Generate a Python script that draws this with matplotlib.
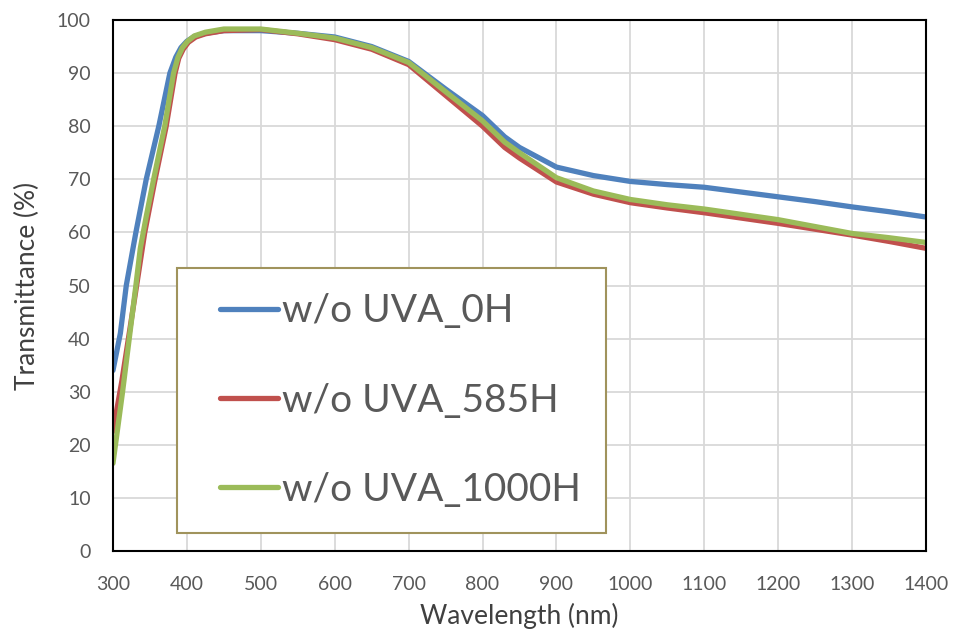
import matplotlib
matplotlib.use("Agg")
import matplotlib.pyplot as plt
from matplotlib.legend_handler import HandlerLine2D

# -----------------------------
# Data
# -----------------------------
wl_0h = [300, 310, 318, 331, 345, 362, 377, 385, 392, 400, 410, 425, 450, 500,
         550, 600, 650, 700, 750, 800, 830, 850, 900, 950, 1000, 1050, 1100,
         1150, 1200, 1250, 1300, 1350, 1400]
t_0h = [34, 41, 50, 60, 70, 80, 90, 93, 94.8, 96, 96.9, 97.5, 98, 98,
        97.5, 96.8, 95, 92.2, 87, 82, 78, 76, 72.3, 70.7, 69.6, 69, 68.5,
        67.6, 66.7, 65.8, 64.8, 63.9, 62.9]

wl_585h = [300, 312, 322, 332, 343, 357, 372, 384, 389, 395, 402, 412, 425, 450,
           500, 550, 600, 650, 700, 750, 800, 830, 850, 900, 950, 1000, 1050,
           1100, 1150, 1200, 1250, 1300, 1350, 1400]
t_585h = [22.5, 32, 41, 50, 60, 70, 80, 90, 92.8, 94.5, 95.8, 96.8, 97.4, 98,
          98.2, 97.4, 96.3, 94.5, 91.6, 85.8, 80, 76, 74, 69.5, 67.2, 65.6, 64.6,
          63.7, 62.7, 61.7, 60.6, 59.5, 58.3, 57]

wl_1000h = [300, 313, 322, 331, 337, 345, 355, 370, 382, 388, 394, 401, 410, 425,
            450, 500, 550, 600, 650, 700, 750, 800, 830, 850, 900, 950, 1000,
            1050, 1100, 1150, 1200, 1250, 1300, 1350, 1400]
t_1000h = [16.5, 30, 40, 50, 57, 63, 70, 80, 90, 93, 94.8, 96, 97, 97.7,
           98.3, 98.3, 97.5, 96.6, 94.8, 92, 86.5, 81, 77, 75, 70.3, 67.8, 66.2,
           65.2, 64.4, 63.4, 62.4, 61.1, 59.8, 59, 58.1]

labels = ["w/o UVA_0H", "w/o UVA_585H", "w/o UVA_1000H"]
colors = ["#4F81BD", "#C0504D", "#9BBB59"]

# -----------------------------
# Plot
# -----------------------------
plt.rcParams['font.family'] = ['Lato', 'DejaVu Sans']

fig = plt.figure(figsize=(9.59, 6.29), dpi=100)
ax = fig.add_axes([0.1178, 0.124, 0.8478, 0.8442])

style = dict(lw=3.8, solid_capstyle='round', solid_joinstyle='round')
ax.plot(wl_0h, t_0h, color=colors[0], label=labels[0], **style)
ax.plot(wl_585h, t_585h, color=colors[1], label=labels[1], **style)
ax.plot(wl_1000h, t_1000h, color=colors[2], label=labels[2], **style)

ax.set_xlim(300, 1400)
ax.set_ylim(0, 100)
ax.set_xticks(range(300, 1401, 100))
ax.set_yticks(range(0, 101, 10))
ax.grid(True, color="#D9D9D9", lw=1.3)
ax.set_axisbelow(True)
ax.tick_params(length=0, labelsize=14, labelcolor="#595959")
ax.tick_params(axis='x', pad=18)
ax.tick_params(axis='y', pad=16)
for s in ax.spines.values():
    s.set_color("black")
    s.set_linewidth(1.5)

ax.set_xlabel("Wavelength (nm)", fontsize=19, color="#404040")
ax.set_ylabel("Transmittance (%)", fontsize=19, color="#404040")
ax.xaxis.set_label_coords(0.5, -0.097)
ax.yaxis.set_label_coords(-0.09, 0.5)

# legend: handle starts a bit inside the frame, text right after the line
p = 0.46
leg = ax.legend(loc="upper left", bbox_to_anchor=(0.0787, 0.533),
                fontsize=28, handlelength=1.95, handletextpad=0.1,
                labelspacing=1.37, borderpad=0.65, borderaxespad=0,
                fancybox=False, framealpha=1, edgecolor="#A0935C",
                handler_map={plt.Line2D: HandlerLine2D(xpad=p)})
leg.get_frame().set_linewidth(1.5)
for t in leg.get_texts():
    t.set_color("#595959")

fig.savefig("out.png", dpi=100)
